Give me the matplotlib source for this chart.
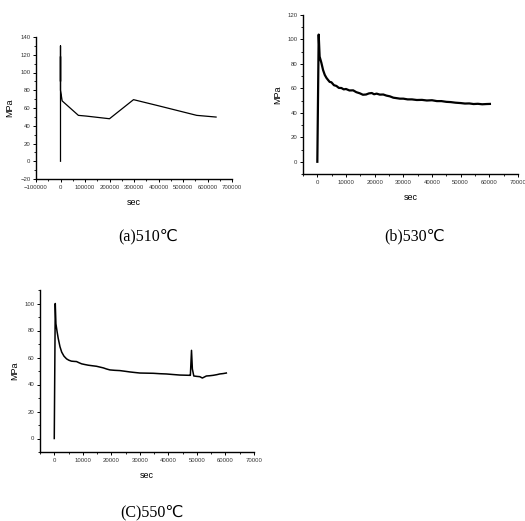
import matplotlib
matplotlib.use("Agg")
import matplotlib.pyplot as plt
from matplotlib.ticker import MultipleLocator, AutoMinorLocator

# (a) 510 C
a_sec = [0, 0, 0, 0, 0, 6800, 73000, 105000, 200000, 298000, 400000, 556000, 635000]
a_mpa = [0, 130, 90, 118, 80, 68, 51.7, 50.9, 47.9, 69.4, 62.5, 51.7, 49.8]

# (b) 530 C
b_sec = [0, 470, 800, 1400, 2000, 2600, 3200, 3700, 4300, 4900, 5800, 6650, 7500, 8400,
         9200, 10000, 11200, 12500, 13600, 14800, 15900, 17000, 18000, 19000, 19800,
         20700, 21800, 23000, 24100, 25300, 26500, 27700, 28800, 30000, 31500, 33000,
         34700, 36500, 38200, 40000, 41700, 43300, 45000, 46500, 48200, 50000, 51500,
         53000, 54500, 56000, 57500, 59000, 60200]
b_mpa = [0, 104, 86, 81, 75, 71, 68.5, 67, 65.3, 65, 62.6, 62, 60.4, 60.3,
         59.2, 59.5, 58.3, 58.4, 56.9, 56, 54.8, 55, 55.9, 56.2, 55.2,
         55.7, 54.9, 55, 54.1, 53.5, 52.4, 52, 51.6, 51.6, 51.0, 51,
         50.5, 50.6, 50.1, 50.3, 49.6, 49.6, 49.0, 48.8, 48.3, 48, 47.6,
         47.7, 47.2, 47.4, 47.0, 47.2, 47.3]

# (c) 550 C
c_sec = [0, 350, 580, 1000, 1400, 2000, 2600, 3400, 4300, 5100, 6000, 7000, 7800,
         8700, 9600, 10700, 11900, 13300, 14800, 16000, 17200, 18300, 19500, 21200,
         23000, 24800, 26500, 28200, 30000, 32300, 34700, 37000, 39300, 41600, 44000,
         45800, 47500, 47700, 48100, 48400, 48900, 50000, 51000, 51900, 53300, 54500,
         55700, 57000, 58000, 59200, 60300]
c_mpa = [0, 100, 85, 79, 74, 68, 64, 61, 59, 58, 57.3, 57.1, 57,
         56.1, 55.3, 54.8, 54.3, 53.9, 53.5, 52.9, 52.3, 51.5, 50.8, 50.5,
         50.3, 49.8, 49.3, 48.9, 48.5, 48.4, 48.3, 48, 47.8, 47.4, 47,
         46.9, 46.8, 46.8, 65.3, 51.5, 46.3, 46, 45.8, 44.8, 46.3, 46.5,
         46.8, 47.3, 47.8, 48.1, 48.5]

captions = ["(a)510℃", "(b)530℃", "(C)550℃"]

W, H = 525, 521
fig = plt.figure(figsize=(W / 100, H / 100), dpi=100)


def add_ax(x0, y0, x1, y1):
    # pixel box (top-left origin) -> figure coords
    return fig.add_axes([x0 / W, 1 - y1 / H, (x1 - x0) / W, (y1 - y0) / H])


def style(ax, xlim, ylim, xmaj, ymaj):
    ax.set_xlim(*xlim)
    ax.set_ylim(*ylim)
    ax.xaxis.set_major_locator(MultipleLocator(xmaj))
    ax.yaxis.set_major_locator(MultipleLocator(ymaj))
    ax.xaxis.set_minor_locator(AutoMinorLocator(2))
    ax.yaxis.set_minor_locator(AutoMinorLocator(2))
    for s in ("top", "right"):
        ax.spines[s].set_visible(False)
    for s in ("left", "bottom"):
        ax.spines[s].set_linewidth(1.0)
    ax.tick_params(which="major", direction="out", length=2.5, width=0.7,
                   labelsize=4.3, pad=1.5, labelcolor="#333333")
    ax.tick_params(which="minor", direction="out", length=1.5, width=0.6)
    for lab in ax.get_xticklabels() + ax.get_yticklabels():
        lab.set_family("Liberation Sans")
    ax.set_xlabel("sec", fontsize=6.5, family="Liberation Sans", labelpad=6)
    ax.set_ylabel("MPa", fontsize=6.5, family="Liberation Sans", labelpad=4)


ax1 = add_ax(36, 37, 232, 179)
ax1.plot(a_sec, a_mpa, color="black", linewidth=0.9)
style(ax1, (-100000, 700000), (-20, 140), 100000, 20)

ax2 = add_ax(303, 15, 518, 174)
ax2.plot(b_sec, b_mpa, color="black", linewidth=1.6)
style(ax2, (-5000, 70000), (-10, 120), 10000, 20)

ax3 = add_ax(40, 290, 254, 452)
ax3.plot(c_sec, c_mpa, color="black", linewidth=1.1)
style(ax3, (-5000, 70000), (-10, 110), 10000, 20)

cap_pos = [(148, 236), (415, 236), (152, 512)]
for txt, (cx, cy) in zip(captions, cap_pos):
    fig.text(cx / W, 1 - cy / H, txt, ha="center", va="center", fontsize=11.5,
             family=["Liberation Serif", "DejaVu Sans"])

fig.savefig("out.png", dpi=100)
